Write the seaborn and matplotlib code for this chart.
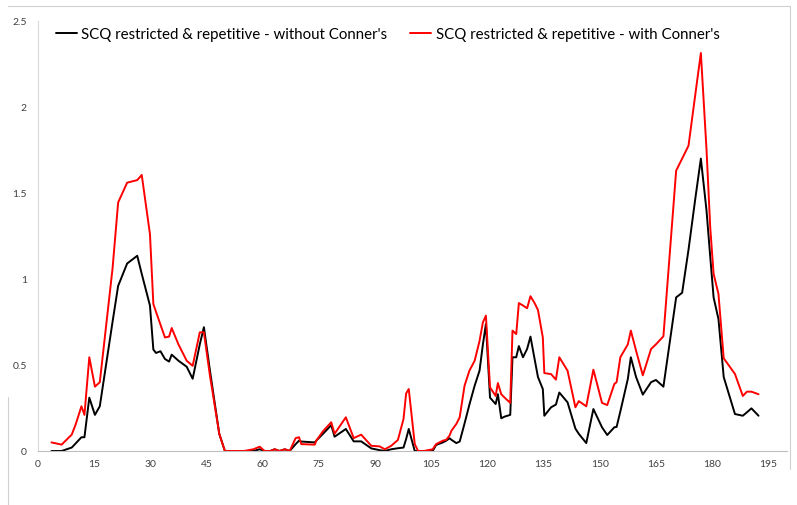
import numpy as np
import pandas as pd
import seaborn as sns
import matplotlib.pyplot as plt
from matplotlib.lines import Line2D

# x positions shared by both series
x_vals = [3.6, 6.3, 9.0, 10.1, 11.6, 12.4, 13.7, 15.2, 16.5, 19.9, 21.4, 23.8, 26.5, 27.7, 29.9,
          30.8, 31.5, 32.7, 33.9, 35.0, 35.7, 37.5, 39.7, 41.3, 43.2, 44.3, 45.9, 48.4, 49.9,
          52.0, 55.0, 57.5, 59.2, 60.5, 62.0, 63.2, 64.5, 65.9, 67.2, 68.8, 69.7, 70.3, 73.9,
          74.3, 76.1, 78.3, 79.2, 82.2, 84.3, 86.3, 89.0, 91.2, 92.6, 94.3, 96.1, 97.6, 98.3,
          99.0, 100.6, 101.5,
          103.0, 105.4, 106.3, 108.1, 109.0, 109.9, 110.4, 111.7, 112.6, 113.9, 115.2, 116.6,
          117.9, 118.8, 119.6, 120.7, 122.2, 122.8, 123.7, 124.6, 126.1, 126.7, 127.7, 128.4,
          129.5, 130.6, 131.5, 132.6, 133.5, 134.8, 135.2, 137.0, 138.3, 139.2,
          141.4, 143.5, 144.4, 146.4, 148.3, 150.6, 152.0, 153.9, 154.5, 155.5, 157.5, 158.3,
          159.7, 161.5, 163.7, 165.0, 167.0, 170.4, 172.0,
          173.7, 175.5, 177.0, 178.5, 179.5, 180.4, 181.7, 183.1, 186.1, 188.2, 189.3, 190.5,
          192.4]

without_conners = [0.0, 0.0, 0.02, 0.045, 0.08, 0.08, 0.31, 0.21, 0.26, 0.75, 0.96, 1.09, 1.135, 1.03, 0.845,
                   0.59, 0.57, 0.58, 0.535, 0.52, 0.56, 0.525, 0.49, 0.42, 0.62, 0.72, 0.47, 0.10, 0.0,
                   0.0, 0.0, 0.0, 0.01, 0.0, 0.0, 0.01, 0.0, 0.01, 0.0, 0.04, 0.06, 0.055, 0.05,
                   0.06, 0.10, 0.15, 0.083, 0.128, 0.056, 0.056, 0.015, 0.005, 0.0, 0.01, 0.016, 0.02, 0.07,
                   0.128, 0.0, 0.0,
                   0.0, 0.0, 0.035, 0.05, 0.06, 0.074, 0.065, 0.046, 0.055, 0.16, 0.27, 0.38,
                   0.467, 0.62, 0.738, 0.31, 0.273, 0.33, 0.19, 0.20, 0.21, 0.545, 0.545, 0.61,
                   0.545, 0.593, 0.665, 0.535, 0.43, 0.36, 0.205, 0.254, 0.27, 0.34,
                   0.283, 0.13, 0.10, 0.046, 0.244, 0.138, 0.093, 0.138, 0.14, 0.23, 0.419, 0.545,
                   0.43, 0.328, 0.40, 0.413, 0.374, 0.893, 0.92,
                   1.17, 1.465, 1.70, 1.40, 1.13, 0.893, 0.767, 0.43, 0.215, 0.205, 0.225, 0.248,
                   0.205]

with_conners = [0.05, 0.037, 0.095, 0.157, 0.26, 0.21, 0.545, 0.374, 0.40, 1.06, 1.445, 1.56, 1.575, 1.605, 1.26,
                0.855, 0.81, 0.735, 0.66, 0.665, 0.715, 0.62, 0.525, 0.495, 0.69, 0.69, 0.44, 0.10, 0.0,
                0.0, 0.0, 0.01, 0.025, 0.0, 0.0, 0.01, 0.0, 0.01, 0.0, 0.075, 0.08, 0.04, 0.037,
                0.06, 0.115, 0.167, 0.10, 0.196, 0.075, 0.095, 0.03, 0.027, 0.01, 0.03, 0.064, 0.186, 0.335,
                0.36, 0.04, 0.0,
                0.0, 0.01, 0.04, 0.06, 0.065, 0.09, 0.118, 0.157, 0.196, 0.38, 0.467, 0.525,
                0.64, 0.748, 0.787, 0.37, 0.32, 0.395, 0.33, 0.31, 0.28, 0.70, 0.68, 0.86,
                0.846, 0.83, 0.90, 0.86, 0.82, 0.66, 0.453, 0.447, 0.415, 0.545,
                0.467, 0.254, 0.29, 0.26, 0.473, 0.28, 0.267, 0.39, 0.40, 0.545, 0.62, 0.70,
                0.583, 0.44, 0.593, 0.62, 0.667, 1.63, 1.70,
                1.775, 2.07, 2.314, 1.756, 1.30, 1.03, 0.913, 0.539, 0.448, 0.32, 0.345, 0.345,
                0.33]

series_names = ["SCQ restricted & repetitive - without Conner's",
                "SCQ restricted & repetitive - with Conner's"]
x_ticks = list(range(0, 196, 15))
y_ticks = [0, 0.5, 1, 1.5, 2, 2.5]

df = pd.DataFrame({"x": x_vals * 2,
                   "value": without_conners + with_conners,
                   "series": [series_names[0]] * len(x_vals) + [series_names[1]] * len(x_vals)})

sns.set_style("white")
plt.rcParams['font.family'] = ['Lato', 'DejaVu Sans']

fig = plt.figure(figsize=(7.97, 5.06), dpi=100)
ax = fig.add_axes([38 / 797, 1 - 452 / 506, (787 - 38) / 797, 430 / 506])

sns.lineplot(data=df, x="x", y="value", hue="series", palette=["#000000", "#ff0000"],
             linewidth=1.4, sort=False, estimator=None, ax=ax, legend=False)

ax.set_xlim(0, 200)
ax.set_ylim(0, 2.5)
ax.set_xticks(x_ticks)
ax.set_yticks(y_ticks)
ax.set_yticklabels([f"{v:g}" for v in y_ticks])
ax.set_xlabel("")
ax.set_ylabel("")
ax.tick_params(axis="both", length=0, labelsize=7.5, colors="#404040", pad=6)
ax.tick_params(axis="y", pad=8)

for side in ["top", "right"]:
    ax.spines[side].set_visible(False)
ax.spines["left"].set_color("#d9d9d9")
ax.spines["left"].set_linewidth(0.8)
ax.spines["bottom"].set_color("#bfbfbf")
ax.spines["bottom"].set_linewidth(0.8)

handles = [Line2D([], [], color="#000000", lw=1.4), Line2D([], [], color="#ff0000", lw=1.4)]
ax.legend(handles, series_names, loc="upper left", bbox_to_anchor=(0.006, 1.018), ncol=2,
          frameon=False, fontsize=10.8, handlelength=1.4, handletextpad=0.3, columnspacing=1.5,
          labelcolor="#000000")

# outer chart frame
frame_col = "#d0d0d0"
fig.add_artist(Line2D([8 / 797, 790 / 797], [1 - 7 / 506, 1 - 7 / 506], color=frame_col, lw=0.8))
fig.add_artist(Line2D([790 / 797, 790 / 797], [1 - 7 / 506, 1 - 470 / 506], color=frame_col, lw=0.8))
fig.add_artist(Line2D([8 / 797, 8 / 797], [1 - 398 / 506, 0], color=frame_col, lw=0.8))

fig.savefig("out.png", dpi=100)
